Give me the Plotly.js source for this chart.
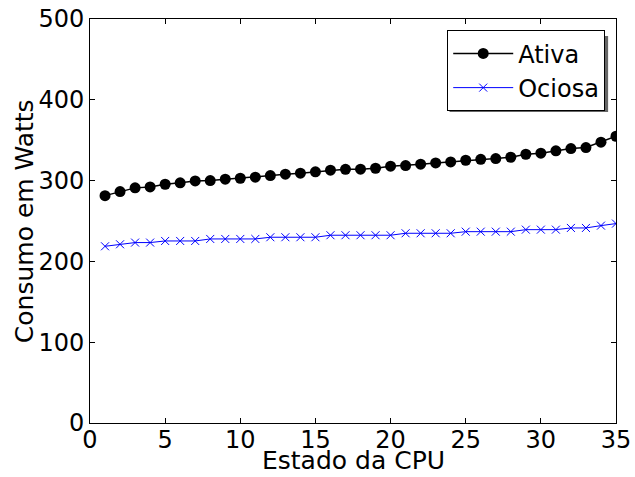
<!DOCTYPE html>
<html>
<head>
<meta charset="utf-8">
<script src="https://cdn.plot.ly/plotly-3.0.1.min.js"></script>
<style>html,body{margin:0;padding:0;background:#fff;}#chart{width:635px;height:477px;}</style>
</head>
<body>
<div id="chart"></div>
<script>
const estados = [1,2,3,4,5,6,7,8,9,10,11,12,13,14,15,16,17,18,19,20,21,22,23,24,25,26,27,28,29,30,31,32,33,34,35];
const ativa = [281.4,286.4,291,292.2,295.5,297.2,299.6,300,301.7,302.9,304.2,306.2,307.9,309.2,310.8,312.9,314,314.1,315.3,317.8,318.6,320.3,321.9,323.1,325.2,326.4,327.3,328.9,332.6,333.9,336.8,339.6,340.9,347.5,354.9];
const ociosa = [218.7,221.2,223.3,223.3,225.3,225.3,225.3,227.8,227.8,227.8,227.8,229.9,229.9,229.9,229.9,232.4,232.4,232.4,232.4,232.4,234.8,234.8,234.8,234.8,236.8,236.8,236.8,236.8,239.3,239.3,239.3,241.4,241.4,244.3,246.8];
const xTicks = [0,5,10,15,20,25,30,35];
const yTicks = [0,100,200,300,400,500];
const xTitle = 'Estado da CPU';
const yTitle = 'Consumo em Watts';

const font = {family: 'DejaVu Sans', size: 24, color: '#000'};
const titleFont = {family: 'DejaVu Sans', size: 25, color: '#000'};
const traces = [
  {x: estados, y: ativa, name: 'Ativa', mode: 'lines+markers', type: 'scatter',
   line: {color: '#000', width: 1.5}, marker: {symbol: 'circle', size: 11, color: '#000'}},
  {x: estados, y: ociosa, name: 'Ociosa', mode: 'lines+markers', type: 'scatter',
   line: {color: '#0000ff', width: 1}, marker: {symbol: 'x-thin', size: 8, color: '#0000ff', line: {color: '#0000ff', width: 1}}}
];
const axisCommon = {showline: true, linecolor: '#000', linewidth: 1, mirror: 'ticks', ticks: 'inside',
  ticklen: 5, tickcolor: '#000', showgrid: false, zeroline: false, tickfont: font, automargin: false};
const layout = {
  width: 635, height: 477,
  margin: {l: 89.5, r: 18.5, t: 19, b: 54},
  paper_bgcolor: '#fff', plot_bgcolor: '#fff',
  font: font,
  showlegend: true,
  xaxis: Object.assign({}, axisCommon, {range: [0, 35], tickvals: xTicks, ticktext: xTicks.map(String), ticklabelstandoff: -5}),
  yaxis: Object.assign({}, axisCommon, {range: [0, 500], tickvals: yTicks, ticktext: yTicks.map(String)}),
  legend: {x: 0.9795, y: 0.972, xanchor: 'right', yanchor: 'top', bgcolor: '#fff',
    bordercolor: '#000', borderwidth: 1, font: font, itemwidth: 60, tracegroupgap: 0},
  annotations: [
    {text: xTitle, xref: 'paper', yref: 'paper', x: 0.5, y: -0.1337, xanchor: 'center', yanchor: 'bottom',
     showarrow: false, font: titleFont},
    {text: yTitle, xref: 'paper', yref: 'paper', x: -0.1565, y: 0.5, xanchor: 'left', yanchor: 'middle',
     textangle: -90, showarrow: false, font: titleFont}
  ],
  shapes: [
    {type: 'rect', xref: 'paper', yref: 'paper', x0: 0.6835, x1: 0.985, y0: 0.7698, y1: 0.958,
     fillcolor: '#666', line: {width: 0}, layer: 'below'}
  ]
};
Plotly.newPlot('chart', traces, layout, {displayModeBar: false, staticPlot: true});
</script>
</body>
</html>
